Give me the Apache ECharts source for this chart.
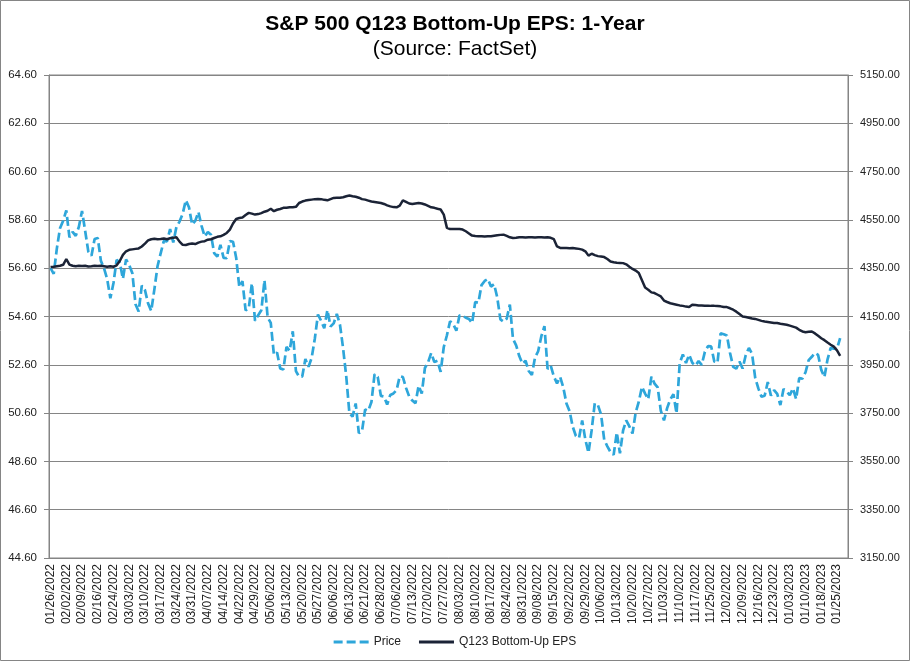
<!DOCTYPE html>
<html>
<head>
<meta charset="utf-8">
<script src="https://cdn.jsdelivr.net/npm/echarts/dist/echarts.min.js"></script>
<style>
html,body{margin:0;padding:0;background:#fff;}
#chart{width:910px;height:661px;}
</style>
</head>
<body>
<div id="chart"></div>
<script>
// Trading days (categories); two trailing days have no data
const dates = [
"01/26/2022","01/27/2022","01/28/2022","01/31/2022",
"02/01/2022","02/02/2022","02/03/2022","02/04/2022","02/07/2022","02/08/2022","02/09/2022","02/10/2022","02/11/2022","02/14/2022","02/15/2022","02/16/2022","02/17/2022","02/18/2022","02/22/2022","02/23/2022","02/24/2022","02/25/2022","02/28/2022",
"03/01/2022","03/02/2022","03/03/2022","03/04/2022","03/07/2022","03/08/2022","03/09/2022","03/10/2022","03/11/2022","03/14/2022","03/15/2022","03/16/2022","03/17/2022","03/18/2022","03/21/2022","03/22/2022","03/23/2022","03/24/2022","03/25/2022","03/28/2022","03/29/2022","03/30/2022","03/31/2022",
"04/01/2022","04/04/2022","04/05/2022","04/06/2022","04/07/2022","04/08/2022","04/11/2022","04/12/2022","04/13/2022","04/14/2022","04/18/2022","04/19/2022","04/20/2022","04/21/2022","04/22/2022","04/25/2022","04/26/2022","04/27/2022","04/28/2022","04/29/2022",
"05/02/2022","05/03/2022","05/04/2022","05/05/2022","05/06/2022","05/09/2022","05/10/2022","05/11/2022","05/12/2022","05/13/2022","05/16/2022","05/17/2022","05/18/2022","05/19/2022","05/20/2022","05/23/2022","05/24/2022","05/25/2022","05/26/2022","05/27/2022","05/31/2022",
"06/01/2022","06/02/2022","06/03/2022","06/06/2022","06/07/2022","06/08/2022","06/09/2022","06/10/2022","06/13/2022","06/14/2022","06/15/2022","06/16/2022","06/17/2022","06/21/2022","06/22/2022","06/23/2022","06/24/2022","06/27/2022","06/28/2022","06/29/2022","06/30/2022",
"07/01/2022","07/05/2022","07/06/2022","07/07/2022","07/08/2022","07/11/2022","07/12/2022","07/13/2022","07/14/2022","07/15/2022","07/18/2022","07/19/2022","07/20/2022","07/21/2022","07/22/2022","07/25/2022","07/26/2022","07/27/2022","07/28/2022","07/29/2022",
"08/01/2022","08/02/2022","08/03/2022","08/04/2022","08/05/2022","08/08/2022","08/09/2022","08/10/2022","08/11/2022","08/12/2022","08/15/2022","08/16/2022","08/17/2022","08/18/2022","08/19/2022","08/22/2022","08/23/2022","08/24/2022","08/25/2022","08/26/2022","08/29/2022","08/30/2022","08/31/2022",
"09/01/2022","09/02/2022","09/06/2022","09/07/2022","09/08/2022","09/09/2022","09/12/2022","09/13/2022","09/14/2022","09/15/2022","09/16/2022","09/19/2022","09/20/2022","09/21/2022","09/22/2022","09/23/2022","09/26/2022","09/27/2022","09/28/2022","09/29/2022","09/30/2022",
"10/03/2022","10/04/2022","10/05/2022","10/06/2022","10/07/2022","10/10/2022","10/11/2022","10/12/2022","10/13/2022","10/14/2022","10/17/2022","10/18/2022","10/19/2022","10/20/2022","10/21/2022","10/24/2022","10/25/2022","10/26/2022","10/27/2022","10/28/2022","10/31/2022",
"11/01/2022","11/02/2022","11/03/2022","11/04/2022","11/07/2022","11/08/2022","11/09/2022","11/10/2022","11/11/2022","11/14/2022","11/15/2022","11/16/2022","11/17/2022","11/18/2022","11/21/2022","11/22/2022","11/23/2022","11/25/2022","11/28/2022","11/29/2022","11/30/2022",
"12/01/2022","12/02/2022","12/05/2022","12/06/2022","12/07/2022","12/08/2022","12/09/2022","12/12/2022","12/13/2022","12/14/2022","12/15/2022","12/16/2022","12/19/2022","12/20/2022","12/21/2022","12/22/2022","12/23/2022","12/27/2022","12/28/2022","12/29/2022","12/30/2022",
"01/03/2023","01/04/2023","01/05/2023","01/06/2023","01/09/2023","01/10/2023","01/11/2023","01/12/2023","01/13/2023","01/17/2023","01/18/2023","01/19/2023","01/20/2023","01/23/2023","01/24/2023","01/25/2023","01/26/2023",
"01/27/2023","01/30/2023"
];

// S&P 500 price (right axis)
const price = [
4349.93,4326.51,4431.85,4515.55,
4546.54,4589.38,4477.44,4500.53,4483.87,4521.54,4587.18,4504.08,4418.64,4401.67,4471.07,4475.01,4380.26,4348.87,4304.76,4225.50,4288.70,4384.65,4373.94,
4306.26,4386.54,4363.49,4328.87,4201.09,4170.70,4277.88,4259.52,4204.31,4173.11,4262.45,4357.86,4411.67,4463.12,4461.18,4511.61,4456.24,4520.16,4543.06,4575.52,4631.60,4602.45,4530.41,
4545.86,4582.64,4525.12,4481.15,4500.21,4488.28,4412.53,4397.45,4446.59,4392.59,4391.69,4462.21,4459.45,4393.66,4271.78,4296.12,4175.20,4183.96,4287.50,4131.93,
4155.38,4175.48,4300.17,4146.87,4123.34,3991.24,4001.05,3935.18,3930.08,4023.89,4008.01,4088.85,3923.68,3900.79,3901.36,3973.75,3941.48,3978.73,4057.84,4158.24,4132.15,
4101.23,4176.82,4108.54,4121.43,4160.68,4115.77,4017.82,3900.86,3749.63,3735.48,3789.99,3666.77,3674.84,3764.79,3759.89,3795.73,3911.74,3900.11,3821.55,3818.83,3785.38,
3825.33,3831.39,3845.08,3902.62,3899.38,3854.43,3818.80,3801.78,3790.38,3863.16,3830.85,3936.69,3959.90,3998.95,3961.63,3966.84,3921.05,4023.61,4072.43,4130.29,
4118.63,4091.19,4155.17,4151.94,4145.19,4140.06,4122.47,4210.24,4207.27,4280.15,4297.14,4305.20,4274.04,4283.74,4228.48,4137.99,4128.73,4140.77,4199.12,4057.66,4030.61,3986.16,3955.00,
3966.85,3924.26,3908.19,3979.87,4006.18,4067.36,4110.41,3932.69,3946.01,3901.35,3873.33,3899.89,3855.93,3789.93,3757.99,3693.23,3655.04,3647.29,3719.04,3640.47,3585.62,
3678.43,3790.93,3783.28,3744.52,3639.66,3612.39,3588.84,3577.03,3669.91,3583.07,3677.95,3719.98,3695.16,3665.78,3752.75,3797.34,3859.11,3830.60,3807.30,3901.06,3871.98,
3856.10,3759.69,3719.89,3770.55,3806.80,3828.11,3748.57,3956.37,3992.93,3957.25,3991.73,3958.79,3946.56,3965.34,3949.94,4003.58,4027.26,4026.12,3963.94,3957.63,4080.11,
4076.57,4071.70,3998.84,3941.26,3933.92,3963.51,3934.38,3990.56,4019.65,3995.32,3895.75,3852.36,3817.66,3821.62,3878.44,3822.39,3844.82,3829.25,3783.22,3849.28,3839.50,
3824.14,3852.97,3808.10,3895.08,3892.09,3919.25,3969.61,3983.17,3999.09,3990.97,3928.86,3898.85,3972.61,4019.81,4016.95,4016.22,4060.43
];

// Q123 bottom-up EPS (left axis)
const eps = [
56.65,56.66,56.68,56.70,56.74,56.98,56.75,56.70,56.68,56.70,
56.69,56.70,56.67,56.68,56.70,56.69,56.70,56.68,56.66,56.68,
56.66,56.72,56.90,57.15,57.30,57.36,57.38,57.40,57.42,57.50,
57.62,57.75,57.80,57.82,57.80,57.81,57.83,57.80,57.84,57.86,
57.88,57.70,57.57,57.56,57.60,57.62,57.60,57.66,57.70,57.72,
57.78,57.80,57.85,57.90,57.92,57.98,58.06,58.20,58.45,58.64,
58.68,58.70,58.80,58.89,58.86,58.82,58.84,58.88,58.94,58.98,
59.06,58.96,59.02,59.05,59.10,59.10,59.12,59.12,59.14,59.30,
59.36,59.40,59.42,59.44,59.46,59.47,59.46,59.43,59.41,59.46,
59.51,59.52,59.52,59.54,59.58,59.61,59.58,59.56,59.52,59.46,
59.44,59.40,59.36,59.34,59.32,59.30,59.26,59.20,59.16,59.13,
59.12,59.19,59.41,59.35,59.28,59.26,59.28,59.30,59.28,59.24,
59.18,59.12,59.10,59.06,59.03,58.82,58.27,58.22,58.22,58.22,
58.22,58.20,58.13,58.04,57.95,57.93,57.92,57.92,57.91,57.92,
57.92,57.94,57.96,57.98,57.99,57.94,57.88,57.85,57.86,57.88,
57.88,57.87,57.88,57.88,57.87,57.88,57.88,57.87,57.88,57.86,
57.80,57.50,57.44,57.44,57.44,57.43,57.44,57.42,57.40,57.37,
57.30,57.12,57.20,57.14,57.10,57.08,57.06,56.98,56.88,56.85,
56.83,56.82,56.81,56.76,56.66,56.57,56.50,56.40,56.10,55.80,
55.71,55.60,55.57,55.50,55.43,55.26,55.20,55.15,55.12,55.09,
55.06,55.04,55.01,54.99,55.09,55.08,55.06,55.06,55.05,55.05,
55.04,55.04,55.03,55.02,54.99,54.99,54.94,54.88,54.80,54.70,
54.60,54.58,54.55,54.52,54.50,54.46,54.42,54.39,54.37,54.35,
54.33,54.33,54.30,54.28,54.26,54.22,54.18,54.14,54.05,53.98,
53.95,53.97,53.98,53.90,53.80,53.70,53.62,53.52,53.43,53.35,
53.20,52.97
];

const seriesNames = ['Price', 'Q123 Bottom-Up EPS'];

const FONT = "'Liberation Sans', Arial, sans-serif";
const GRAY = '#858585';
const PRICE_COLOR = '#2EA6DA';
const EPS_COLOR = '#1B2336';

const chart = echarts.init(document.getElementById('chart'));
chart.setOption({
  backgroundColor: '#ffffff',
  animation: false,
  graphic: [{
    type: 'rect', silent: true, z: 100,
    shape: { x: 0.5, y: 0.5, width: 909, height: 660 },
    style: { fill: 'none', stroke: GRAY, lineWidth: 1 }
  }],
  title: {
    text: 'S&P 500 Q123 Bottom-Up EPS: 1-Year',
    subtext: '(Source: FactSet)',
    left: 'center', top: 9, itemGap: 4,
    textStyle: { fontFamily: FONT, fontSize: 21, fontWeight: 'bold', color: '#000' },
    subtextStyle: { fontFamily: FONT, fontSize: 21, color: '#000' }
  },
  legend: {
    data: [
      { name: seriesNames[0], icon: 'path://M0 0h9v3H0z M13 0h9v3h-9z M26 0h9v3h-9z' },
      { name: seriesNames[1], icon: 'path://M0 0h35v3H0z' }
    ],
    left: 'center', bottom: 8,
    itemWidth: 35, itemHeight: 3, itemGap: 18,
    textStyle: { fontFamily: FONT, fontSize: 12, color: '#222' }
  },
  grid: { left: 49, right: 62, top: 75, bottom: 103, show: true, borderColor: GRAY, borderWidth: 1 },
  xAxis: {
    type: 'category', data: dates, boundaryGap: true,
    axisLine: { lineStyle: { color: GRAY } },
    axisTick: { show: false },
    axisLabel: { interval: 4, rotate: 90, margin: 6, fontFamily: FONT, fontSize: 12, color: '#222' },
    splitLine: { show: false }
  },
  yAxis: [
    {
      type: 'value', position: 'left', min: 44.6, max: 64.6, interval: 2,
      axisLine: { show: true, lineStyle: { color: GRAY } },
      axisTick: { show: true, length: 5, lineStyle: { color: GRAY } },
      axisLabel: { margin: 12, fontFamily: FONT, fontSize: 11.5, color: '#222', formatter: v => v.toFixed(2) },
      splitLine: { show: true, lineStyle: { color: GRAY, width: 1 } }
    },
    {
      type: 'value', position: 'right', min: 3150, max: 5150, interval: 200,
      axisLine: { show: true, lineStyle: { color: GRAY } },
      axisTick: { show: true, length: 5, lineStyle: { color: GRAY } },
      axisLabel: { margin: 12, fontFamily: FONT, fontSize: 11, color: '#222', formatter: v => v.toFixed(2) },
      splitLine: { show: false }
    }
  ],
  series: [
    {
      name: seriesNames[0], type: 'line', yAxisIndex: 1, data: price,
      symbol: 'none', showSymbol: false,
      lineStyle: { color: PRICE_COLOR, width: 2.7, type: [9, 4] },
      itemStyle: { color: PRICE_COLOR }
    },
    {
      name: seriesNames[1], type: 'line', yAxisIndex: 0, data: eps,
      symbol: 'none', showSymbol: false,
      lineStyle: { color: EPS_COLOR, width: 2.5 },
      itemStyle: { color: EPS_COLOR }
    }
  ]
});
</script>
</body>
</html>
